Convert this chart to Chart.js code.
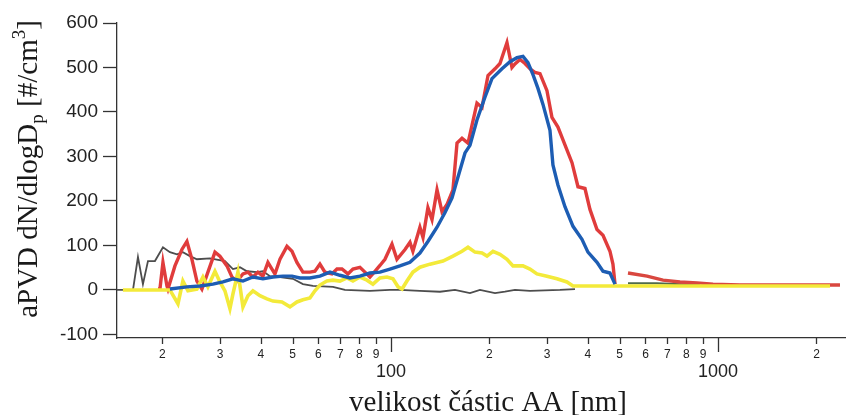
<!DOCTYPE html>
<html><head><meta charset="utf-8">
<script src="https://cdn.jsdelivr.net/npm/chart.js@4"></script>
<style>html,body{margin:0;padding:0;background:#fff;}canvas{display:block;}</style>
</head><body>
<canvas id="c" width="847" height="415"></canvas>
<script>
// ---- data (diameter in nm, aPVD dN/dlogDp in #/cm3) ----
const redD = [19.39,19.66,20.08,20.65,20.80,21.85,22.95,23.77,24.62,25.50,26.42,27.56,28.96,29.99,31.51,32.64,33.81,35.27,36.53,37.84,39.19,40.60,42.05,43.26,44.18,45.77,48.08,49.81,51.57,53.80,56.52,58.54,60.64,62.82,65.99,68.36,70.81,73.86,76.51,80.37,83.26,86.23,89.33,92.53,95.85,100.7,104.3,110.4,114.3,116.7,122.6,125.3,129.7,133.5,138.3,143.2,148.3,154.7,159.2,164.9,172.0,183.2,189.8,198.0,208.0,215.4,226.3,234.4,239.4,248.0,256.9,266.1,275.6,285.5,299.9,310.6,324.0,340.4,357.7,373.1,391.9,405.9,426.5,444.9,467.3,477.2,484.2];
const redV = [2,2,62,9,2,54,91,109,69,20,2,40,85,76,54,29,20,36,40,29,40,31,62,47,36,69,98,87,62,40,40,42,58,40,36,47,47,36,47,51,40,29,42,55,69,103,69,91,107,87,141,118,185,158,225,176,192,225,330,341,330,420,410,482,497,509,556,500,508,518,509,497,489,486,448,388,366,326,286,232,228,181,136,123,87,58,13];
const redApsD = [530.6,606.6,678.9,765.2,862.6,965.2,1167,1547,2360];
const redApsV = [38,31,22,18,16,13,11,11,11];

const blueD = [21.09,23.77,26.06,28.55,30.63,32.87,35.27,37.84,40.60,43.56,46.75,49.81,52.67,56.52,60.64,65.07,69.82,74.91,80.37,86.23,92.53,99.29,106.5,114.3,122.6,129.7,138.3,146.3,153.7,160.3,168.4,174.4,183.2,193.8,203.6,218.5,231.2,242.8,253.3,262.4,271.8,281.5,291.6,306.3,312.8,324.0,340.4,360.2,383.7,400.2,426.5,444.9,467.3,484.2];
const blueV = [2,7,9,13,18,25,20,29,25,29,31,31,27,27,31,40,33,27,31,38,40,47,54,62,83,109,141,174,207,254,308,325,382,433,475,497,513,522,525,511,484,453,417,359,281,236,187,143,114,85,62,42,38,13];

const grayD = [14.53,16.26,16.84,17.44,18.07,18.98,20.08,21.09,22.16,23.11,24.28,25.50,27.96,31.07,32.87,34.53,36.28,38.92,40.60,42.65,45.77,50.13,53.80,57.73,66.46,72.3,86.23,99.29,106.5,122.6,141.2,156.9,174.4,187.1,208.0,223.1,239.4,266.1,328.6,365.3];
const grayV = [0,0,74,13,65,65,96,85,80,85,76,69,71,65,47,51,42,40,42,31,29,25,13,9,7,0,-2,0,0,-2,-4,0,-7,0,-7,-4,0,-2,0,2];
const grayApsD = [530.6,650.6,880.7];
const grayApsV = [15,15,11];

const yellowD = [15.15,21.09,22.32,23.11,23.94,25.50,26.61,27.56,28.96,29.99,31.07,32.18,32.87,34.05,35.27,36.53,37.84,39.75,41.76,43.56,46.42,49.11,51.57,53.80,56.52,58.54,60.64,63.71,66.46,69.82,73.34,76.51,80.37,84.44,88.08,92.53,97.21,101.4,105.1,108.1,111.9,116.7,122.6,131.6,144.2,154.7,164.9,172.0,180.7,189.8,196.6,205.1,215.4,226.3,236.1,253.3,266.1,279.5,299.9,321.7,345.2,360.2,378.4,2200];
const yellowV = [0,0,-31,20,-2,2,29,7,42,18,-2,-42,-9,40,-38,-13,-2,-13,-20,-25,-27,-38,-27,-22,-18,-2,11,20,22,20,27,20,29,22,13,27,29,25,7,2,20,40,51,58,65,76,87,96,85,83,76,87,80,69,54,54,47,36,31,25,18,9,9,9];

const xTickValues = [20,30,40,50,60,70,80,90,100,200,300,400,500,600,700,800,900,1000,2000];
const xTickLabels = ['2','3','4','5','6','7','8','9','100','2','3','4','5','6','7','8','9','1000','2'];
const xMajorValues = [100,1000];
const yTickValues = [-100,0,100,200,300,400,500,600];
const xTitle = 'velikost částic AA [nm]';
const yTitleParts = [
  {t:'aPVD dN/dlogD', sub:0},
  {t:'p', sub:1},
  {t:' [#/cm', sub:0},
  {t:'3', sub:-1},
  {t:']', sub:0}
];

function pts(d, v){ return d.map((x,i)=>({x:x, y:v[i]})); }

const AXIS = '#333';
const decor = {
  id:'decor',
  afterDraw(chart){
    const ctx = chart.ctx, xs = chart.scales.x, a = chart.chartArea;
    ctx.save();
    ctx.strokeStyle = AXIS; ctx.lineWidth = 1.3;
    xs.ticks.forEach(t=>{
      const px = Math.round(xs.getPixelForValue(t.value)) + 0.5;
      const len = xMajorValues.includes(t.value) ? 14 : 6;
      ctx.beginPath(); ctx.moveTo(px, a.bottom); ctx.lineTo(px, a.bottom+len); ctx.stroke();
    });
    ctx.fillStyle = '#1a1a1a';
    // x title
    ctx.font = '29px "Liberation Serif", "Times New Roman", serif';
    ctx.textAlign = 'center'; ctx.textBaseline = 'alphabetic';
    ctx.fillText(xTitle, 488, 411);
    // y title (rotated, with sub/superscript)
    ctx.translate(37, 169);
    ctx.rotate(-Math.PI/2);
    ctx.textAlign = 'left';
    const big = '29px "Liberation Serif", "Times New Roman", serif';
    const small = '19px "Liberation Serif", "Times New Roman", serif';
    let total = 0;
    yTitleParts.forEach(p=>{ ctx.font = p.sub ? small : big; p.w = ctx.measureText(p.t).width; total += p.w; });
    let x = -total/2;
    yTitleParts.forEach(p=>{
      ctx.font = p.sub ? small : big;
      const dy = p.sub === 1 ? 6 : (p.sub === -1 ? -12 : 0);
      ctx.fillText(p.t, x, dy);
      x += p.w;
    });
    ctx.restore();
  }
};

function ds(data, color, width){
  return {data:data, borderColor:color, borderWidth:width, pointRadius:0, tension:0, fill:false, spanGaps:false};
}

new Chart(document.getElementById('c'), {
  type:'line',
  data:{datasets:[
    ds(pts(blueD, blueV), '#1d5db3', 3.4),
    ds(pts(yellowD, yellowV), '#f3ea3a', 3.6),
    ds(pts(redD, redV), '#e03c3c', 3.4),
    ds(pts(redApsD, redApsV), '#d9473f', 3.4),
    ds(pts(grayD, grayV), '#4d4d4d', 1.8),
    ds(pts(grayApsD, grayApsV), '#4f6b4a', 2)
  ]},
  options:{
    responsive:false, animation:false, devicePixelRatio:1,
    layout:{padding:{left:0, right:2, top:23, bottom:0}},
    plugins:{legend:{display:false}, tooltip:{enabled:false}},
    scales:{
      x:{
        type:'logarithmic', position:'bottom', bounds:'data',
        min:14.53, max:2445,
        afterBuildTicks:(s)=>{ s.ticks = xTickValues.map(v=>({value:v})); },
        afterFit:(s)=>{ s.height = 77; },
        grid:{display:false, drawTicks:false},
        border:{display:true, color:AXIS, width:1.3},
        ticks:{
          autoSkip:false, maxRotation:0, minRotation:0, padding:9, color:'#222',
          font:(c)=> (c.tick && xMajorValues.includes(c.tick.value))
            ? {family:'"Liberation Sans", Arial, sans-serif', size:18, lineHeight:0.92}
            : {family:'"Liberation Sans", Arial, sans-serif', size:12, lineHeight:1.2},
          callback:(v)=>{ const k = xTickValues.indexOf(v); const lab = xTickLabels[k]; return xMajorValues.includes(v) ? ['', lab] : lab; }
        }
      },
      y:{
        type:'linear', position:'left', bounds:'data',
        min:-108, max:600,
        afterBuildTicks:(s)=>{ s.ticks = yTickValues.map(v=>({value:v})); },
        afterFit:(s)=>{ s.width = 117; },
        grid:{display:true, drawOnChartArea:false, drawTicks:true, tickLength:14, tickColor:AXIS, tickWidth:1.3},
        border:{display:true, color:AXIS, width:1.3},
        ticks:{padding:5, color:'#222', font:{family:'"Liberation Sans", Arial, sans-serif', size:19}}
      }
    }
  },
  plugins:[decor]
});
</script>
</body></html>
